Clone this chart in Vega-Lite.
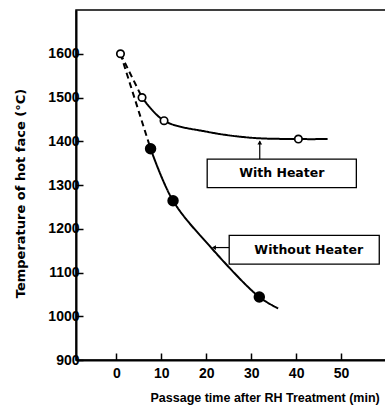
{
  "$schema": "https://vega.github.io/schema/vega-lite/v6.json",
  "width": 310,
  "height": 350,
  "autosize": {"type": "none"},
  "padding": {"left": 76, "top": 10, "right": 0, "bottom": 45},
  "config": {
    "view": {"stroke": "black", "strokeWidth": 1.5},
    "axis": {
      "domainColor": "black", "domainWidth": 2, "tickColor": "black", "tickWidth": 1.5,
      "grid": false, "labelFont": "Liberation Sans", "labelFontWeight": "bold", "labelFontSize": 14,
      "labelColor": "black", "titleFont": "Liberation Sans", "titleFontWeight": "bold",
      "titleFontSize": 12.5, "titleColor": "black", "format": "d"
    }
  },
  "datasets": {
    "curves": [
      {"series": "With Heater", "part": "dash", "t": 0.9, "temp": 1600},
      {"series": "With Heater", "part": "dash", "t": 5.7, "temp": 1500},
      {"series": "With Heater", "part": "solid", "t": 5.7, "temp": 1500},
      {"series": "With Heater", "part": "solid", "t": 10.6, "temp": 1447},
      {"series": "With Heater", "part": "solid", "t": 20, "temp": 1422},
      {"series": "With Heater", "part": "solid", "t": 30, "temp": 1408},
      {"series": "With Heater", "part": "solid", "t": 40.5, "temp": 1405},
      {"series": "With Heater", "part": "solid", "t": 47, "temp": 1405},
      {"series": "Without Heater", "part": "dash", "t": 0.9, "temp": 1600},
      {"series": "Without Heater", "part": "dash", "t": 7.6, "temp": 1383},
      {"series": "Without Heater", "part": "solid", "t": 7.6, "temp": 1383},
      {"series": "Without Heater", "part": "solid", "t": 12.6, "temp": 1264},
      {"series": "Without Heater", "part": "solid", "t": 20.8, "temp": 1160},
      {"series": "Without Heater", "part": "solid", "t": 31.8, "temp": 1044},
      {"series": "Without Heater", "part": "solid", "t": 36, "temp": 1018}
    ],
    "points": [
      {"series": "With Heater", "t": 0.9, "temp": 1600},
      {"series": "With Heater", "t": 5.7, "temp": 1500},
      {"series": "With Heater", "t": 10.6, "temp": 1447},
      {"series": "With Heater", "t": 40.5, "temp": 1405},
      {"series": "Without Heater", "t": 7.6, "temp": 1383},
      {"series": "Without Heater", "t": 12.6, "temp": 1264},
      {"series": "Without Heater", "t": 31.8, "temp": 1044}
    ]
  },
  "encoding": {
    "x": {
      "field": "t", "type": "quantitative",
      "scale": {"domain": [-9, 60], "nice": false, "zero": false},
      "axis": {
        "title": "Passage time after RH Treatment (min)", "values": [0, 10, 20, 30, 40, 50],
        "tickSize": -7, "labelPadding": 13, "titleX": 74, "titleY": 37,
        "titleAlign": "left", "titleBaseline": "middle", "titleAnchor": "start"
      }
    },
    "y": {
      "field": "temp", "type": "quantitative",
      "scale": {"domain": [900, 1700], "nice": false, "zero": false},
      "axis": {
        "title": "Temperature of hot face (°C)",
        "values": [900, 1000, 1100, 1200, 1300, 1400, 1500, 1600],
        "tickSize": -7, "labelPadding": 4, "titleX": -56, "titleY": 183,
        "titleAngle": -90, "titleAlign": "center", "titleBaseline": "middle",
        "titleFont": "DejaVu Sans", "titleFontSize": 13
      }
    }
  },
  "layer": [
    {
      "data": {"name": "curves"},
      "mark": {"type": "line", "interpolate": "catmull-rom", "color": "black", "strokeWidth": 2},
      "encoding": {
        "detail": {"field": "series"},
        "strokeDash": {
          "field": "part", "type": "nominal",
          "scale": {"domain": ["solid", "dash"], "range": [[1, 0], [6, 4]]},
          "legend": null
        }
      }
    },
    {
      "data": {"values": [
        {"t": 31.9, "t2": 31.9, "temp": 1359, "temp2": 1400},
        {"t": 25.1, "t2": 22.0, "temp": 1157, "temp2": 1157}
      ]},
      "mark": {"type": "rule", "color": "black", "strokeWidth": 1.2},
      "encoding": {
        "x2": {"field": "t2"},
        "y2": {"field": "temp2"}
      }
    },
    {
      "data": {"values": [{"t": 31.9, "temp": 1397}]},
      "mark": {"type": "point", "shape": "triangle-up", "filled": true, "color": "black", "size": 22, "opacity": 1}
    },
    {
      "data": {"values": [{"t": 21.7, "temp": 1157}]},
      "mark": {"type": "point", "shape": "triangle-left", "filled": true, "color": "black", "size": 22, "opacity": 1}
    },
    {
      "data": {"values": [
        {"t": 20.2, "t2": 53.4, "temp": 1359, "temp2": 1294},
        {"t": 25.1, "t2": 58.5, "temp": 1185, "temp2": 1119}
      ]},
      "mark": {"type": "rect", "fill": "white", "stroke": "black", "strokeWidth": 1.3},
      "encoding": {
        "x2": {"field": "t2"},
        "y2": {"field": "temp2"}
      }
    },
    {
      "data": {"name": "points"},
      "mark": {"type": "point", "shape": "circle", "filled": true, "stroke": "black", "strokeWidth": 1.7, "opacity": 1},
      "encoding": {
        "fill": {
          "field": "series", "type": "nominal",
          "scale": {"domain": ["With Heater", "Without Heater"], "range": ["white", "black"]},
          "legend": null
        },
        "size": {
          "field": "series", "type": "nominal",
          "scale": {"domain": ["With Heater", "Without Heater"], "range": [55, 95]},
          "legend": null
        }
      }
    },
    {
      "data": {"values": [
        {"t": 36.8, "temp": 1327, "label": "With Heater"},
        {"t": 42.8, "temp": 1151, "label": "Without Heater"}
      ]},
      "mark": {"type": "text", "font": "DejaVu Sans", "fontWeight": "bold", "fontSize": 12.5, "color": "black", "align": "center", "baseline": "middle"},
      "encoding": {"text": {"field": "label"}}
    }
  ]
}
